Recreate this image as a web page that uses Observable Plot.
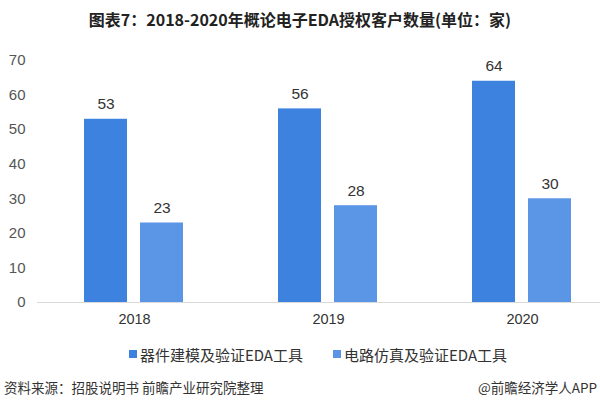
<!DOCTYPE html>
<html>
<head>
<meta charset="utf-8">
<script src="https://cdn.jsdelivr.net/npm/d3@7"></script>
<script src="https://cdn.jsdelivr.net/npm/@observablehq/plot@0.6"></script>
<style>
  html, body { margin: 0; padding: 0; background: #fff; overflow: hidden; width: 600px; height: 412px; }
  body { font-family: "Noto Sans CJK SC", "Noto Sans", sans-serif; }
  #title { height: 40px; line-height: 38px; text-align: center; font-size: 16px; font-weight: bold; color: #222; }
  #legend { height: 28px; margin-top: 10px; display: flex; justify-content: center; align-items: center; gap: 30px; font-size: 15px; color: #333; padding-left: 36px; }
  #legend .item { display: flex; align-items: center; }
  #legend .sw { width: 8px; height: 8px; margin-right: 3px; }
  #source { height: 30px; display: flex; justify-content: space-between; align-items: center; font-size: 13.5px; color: #333; padding: 0 3px 0 4px; margin-top: 4px; }
</style>
</head>
<body>
<div id="title">图表7：2018-2020年概论电子EDA授权客户数量(单位：家)</div>
<div id="chart"></div>
<div id="legend"></div>
<div id="source"><span>资料来源：招股说明书 前瞻产业研究院整理</span><span>@前瞻经济学人APP</span></div>
<script>
const years = ["2018", "2019", "2020"];
const seriesNames = ["器件建模及验证EDA工具", "电路仿真及验证EDA工具"];
const deviceValues = [53, 56, 64];
const circuitValues = [23, 28, 30];
const colors = ["#3d82df", "#5b96e6"];
const yTicks = [0, 10, 20, 30, 40, 50, 60, 70];

const data = [];
years.forEach((y, i) => {
  data.push({year: y, series: seriesNames[0], value: deviceValues[i]});
  data.push({year: y, series: seriesNames[1], value: circuitValues[i]});
});

const chart = Plot.plot({
  width: 600,
  height: 290,
  marginTop: 20,
  marginBottom: 28,
  marginLeft: 37,
  marginRight: -19,
  style: {fontFamily: "Liberation Sans, Arial, sans-serif", background: "#fff"},
  fx: {domain: years, padding: 0, label: null},
  x: {domain: seriesNames, paddingInner: 0.232, paddingOuter: 0.848, axis: null},
  y: {domain: [0, 70], ticks: yTicks, label: null},
  color: {domain: seriesNames, range: colors},
  marks: [
    Plot.axisY({ticks: yTicks, tickSize: 0, tickPadding: 12, fontSize: 15, color: "#555", label: null}),
    Plot.axisFx({anchor: "bottom", tickSize: 0, tickPadding: 11, fontSize: 14.5, color: "#333", label: null}),
    Plot.barY(data, {fx: "year", x: "series", y: "value", fill: "series"}),
    Plot.ruleY([0], {stroke: "#d9d9d9", strokeWidth: 1}),
    Plot.text(data, {fx: "year", x: "series", y: "value", text: d => String(d.value), dy: -15, fontSize: 15.5, fill: "#333"})
  ]
});
document.getElementById("chart").appendChild(chart);

const legend = document.getElementById("legend");
seriesNames.forEach((s, i) => {
  const it = document.createElement("div");
  it.className = "item";
  const sw = document.createElement("span");
  sw.className = "sw";
  sw.style.background = colors[i];
  const t = document.createElement("span");
  t.textContent = s;
  it.appendChild(sw);
  it.appendChild(t);
  legend.appendChild(it);
});
</script>
</body>
</html>
